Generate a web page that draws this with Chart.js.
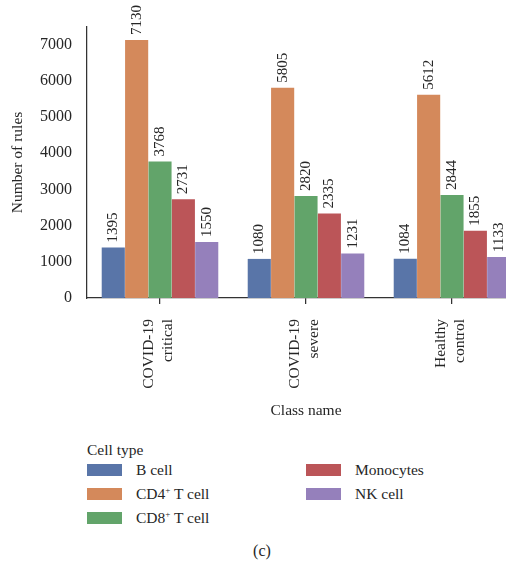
<!DOCTYPE html>
<html>
<head>
<meta charset="utf-8">
<script src="https://cdn.jsdelivr.net/npm/chart.js@4/dist/chart.umd.min.js"></script>
<style>
  html, body { margin: 0; padding: 0; background: #fff; width: 506px; height: 565px; overflow: hidden; }
  body { position: relative; font-family: "Liberation Serif", "DejaVu Serif", serif; color: #262626; }
  #chart { position: absolute; left: 0; top: 0; }
  #legend { position: absolute; left: 87px; top: 441px; font-size: 15.5px; }
  #legend .title { position: absolute; left: 0; top: 0; white-space: nowrap; }
  .item { position: absolute; white-space: nowrap; height: 20px; line-height: 20px; }
  .item .box { position: absolute; left: 0; top: 4px; width: 35px; height: 12px; }
  .item .lbl { position: absolute; left: 49px; top: 0; }
  sup { font-size: 9px; vertical-align: 6px; line-height: 0; }
  #caption { position: absolute; left: 0; width: 524px; top: 542px; text-align: center; font-size: 16px; }
</style>
</head>
<body>
<canvas id="chart" width="530" height="430"></canvas>
<div id="legend"><div class="title">Cell type</div></div>
<div id="caption">(c)</div>
<script>
// data
const classNames = [["COVID-19", "critical"], ["COVID-19", "severe"], ["Healthy", "control"]];
const cellTypes = ["B cell", "CD4+ T cell", "CD8+ T cell", "Monocytes", "NK cell"];
const bCell = [1395, 1080, 1084];
const cd4Cell = [7130, 5805, 5612];
const cd8Cell = [3768, 2820, 2844];
const monocytes = [2731, 2335, 1855];
const nkCell = [1550, 1231, 1133];
const yTicks = [0, 1000, 2000, 3000, 4000, 5000, 6000, 7000];
const colors = ["#5975a8", "#d4895b", "#62a46a", "#bb5558", "#9580bb"];

const series = [bCell, cd4Cell, cd8Cell, monocytes, nkCell];
const font = "'Liberation Serif', 'DejaVu Serif', serif";
const ink = "#262626";

// rotated numbers above each bar
const barLabels = {
    id: "barLabels",
    afterDatasetsDraw(chart) {
        const ctx = chart.ctx;
        ctx.save();
        ctx.font = "15px " + font;
        ctx.fillStyle = ink;
        ctx.textAlign = "left";
        ctx.textBaseline = "middle";
        chart.data.datasets.forEach((ds, i) => {
            chart.getDatasetMeta(i).data.forEach((bar, j) => {
                ctx.save();
                ctx.translate(bar.x, bar.y - 5);
                ctx.rotate(-Math.PI / 2);
                ctx.fillText(String(ds.data[j]), 0, 0);
                ctx.restore();
            });
        });
        ctx.restore();
    }
};

new Chart(document.getElementById("chart"), {
    type: "bar",
    data: {
        labels: classNames,
        datasets: series.map((vals, i) => ({
            label: cellTypes[i],
            data: vals,
            backgroundColor: colors[i],
            borderWidth: 0,
            categoryPercentage: 0.8,
            barPercentage: 0.99
        }))
    },
    options: {
        responsive: false,
        animation: false,
        devicePixelRatio: 1,
        layout: { padding: { top: 27, right: 5, left: 0, bottom: 0 } },
        plugins: { legend: { display: false }, tooltip: { enabled: false } },
        scales: {
            x: {
                grid: { display: true, drawOnChartArea: false, drawTicks: true, tickLength: 6, offset: false, color: "#333", lineWidth: 1.25 },
                border: { display: true, color: "#333", width: 1.25 },
                ticks: { color: ink, font: { family: font, size: 15.5 }, maxRotation: 90, minRotation: 90, padding: 15, labelOffset: -11 },
                title: { display: true, text: "Class name", color: ink, font: { family: font, size: 15.5 }, padding: { top: 0, bottom: 10 } },
                afterFit(scale) { scale.height = 132; }
            },
            y: {
                min: 0,
                max: 7486,
                afterBuildTicks(scale) { scale.ticks = yTicks.map(v => ({ value: v })); },
                grid: { display: false, drawTicks: false },
                border: { display: true, color: "#333", width: 1.25 },
                ticks: { color: ink, font: { family: font, size: 16 }, padding: 15, callback: v => String(v) },
                title: { display: true, text: "Number of rules", color: ink, font: { family: font, size: 15.5 }, padding: { top: 9, bottom: 0 } },
                afterFit(scale) { scale.width = 87; }
            }
        }
    },
    plugins: [barLabels]
});

// legend in two columns, built from the series names
const legend = document.getElementById("legend");
const rowTops = [19, 43, 67];
cellTypes.forEach((name, i) => {
    const item = document.createElement("div");
    item.className = "item";
    item.style.left = (i < 3 ? 0 : 219) + "px";
    item.style.top = rowTops[i % 3] + "px";
    const box = document.createElement("span");
    box.className = "box";
    box.style.background = colors[i];
    const lbl = document.createElement("span");
    lbl.className = "lbl";
    lbl.innerHTML = name.replace(/(\d)\+/, "$1<sup>+</sup>");
    item.appendChild(box);
    item.appendChild(lbl);
    legend.appendChild(item);
});
</script>
</body>
</html>
